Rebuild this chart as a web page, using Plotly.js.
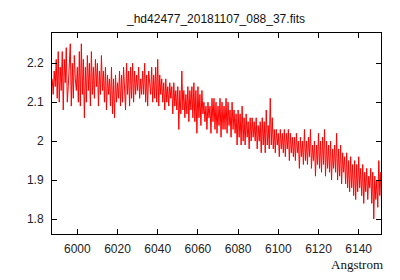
<!DOCTYPE html>
<html>
<head>
<meta charset="utf-8">
<script src="https://cdn.plot.ly/plotly-3.0.1.min.js"></script>
<style>html,body{margin:0;padding:0;background:#fff;}#chart{width:400px;height:280px;}</style>
</head>
<body>
<div id="chart"></div>
<script>
// Spectrum: wavelength start and sampling (Angstrom)
var waveStart = 5987.5;
var waveStep = 0.5;

// Flux values, in blocks of 5 Angstrom
var flux1 = [2.16,2.12,2.18,2.14,2.21,2.11,2.23,2.10,2.19,2.13,
             2.23,2.08,2.21,2.15,2.24,2.10,2.14,2.18,2.25,2.09,
             2.20,2.11,2.22,2.16,2.13,2.19,2.10,2.23,2.09,2.25,
             2.12,2.21,2.06,2.19,2.10,2.22,2.13,2.20,2.09,2.23,
             2.12,2.19,2.11,2.21,2.14,2.20,2.09,2.18,2.12,2.22,
             2.13,2.18,2.10,2.19,2.08,2.17,2.12,2.16,2.09,2.19,
             2.07,2.16,2.06,2.17,2.10,2.15,2.11,2.18,2.09,2.17];
var flux2 = [2.10,2.19,2.15,2.08,2.20,2.12,2.18,2.09,2.19,2.11,
             2.20,2.10,2.18,2.12,2.17,2.13,2.19,2.11,2.16,2.12,
             2.18,2.12,2.20,2.10,2.17,2.09,2.18,2.14,2.12,2.19,
             2.10,2.17,2.11,2.19,2.10,2.21,2.09,2.17,2.12,2.16,
             2.10,2.15,2.08,2.16,2.10,2.14,2.09,2.15,2.11,2.14,
             2.07,2.15,2.09,2.13,2.08,2.14,2.03,2.13,2.07,2.18,
             2.08,2.13,2.06,2.12,2.07,2.14,2.05,2.13,2.08,2.14];
var flux3 = [2.06,2.15,2.05,2.13,2.02,2.14,2.06,2.12,2.04,2.13,
             2.07,2.10,2.05,2.09,2.03,2.10,2.06,2.09,2.02,2.11,
             2.05,2.11,2.03,2.10,2.02,2.09,2.04,2.11,2.01,2.10,
             2.03,2.09,2.03,2.11,2.02,2.10,2.04,2.08,2.01,2.10,
             2.03,2.08,2.02,2.07,1.99,2.08,2.01,2.07,1.99,2.09,
             2.00,2.06,1.99,2.07,2.01,2.05,1.98,2.06,2.00,2.06,
             2.01,2.05,2.00,2.06,1.98,2.04,2.00,2.05,1.97,2.06];
var flux4 = [1.99,2.05,1.97,2.08,1.99,2.04,1.98,2.11,1.99,2.06,
             1.98,2.03,1.97,2.03,1.99,2.02,1.96,2.03,1.98,2.02,
             1.97,2.03,1.96,2.02,1.98,2.03,1.95,2.02,1.97,2.01,
             1.96,2.01,1.95,2.02,1.97,2.00,1.93,2.01,1.96,2.00,
             1.94,2.03,1.95,2.00,1.94,2.01,1.96,2.03,1.93,1.99,
             1.95,2.00,1.91,1.99,1.94,2.02,1.93,2.00,1.92,2.01,
             1.94,2.03,1.91,2.00,1.93,1.99,1.92,2.00,1.90,1.98];
var flux5 = [1.93,1.99,1.92,2.02,1.90,1.98,1.91,1.99,1.89,1.97,
             1.92,1.96,1.89,1.97,1.88,1.95,1.87,1.96,1.88,1.94,
             1.86,1.95,1.85,1.94,1.87,1.96,1.88,1.93,1.86,1.94,
             1.84,1.92,1.87,1.93,1.85,1.91,1.88,1.93,1.84,1.92,
             1.80,1.91,1.85,1.90,1.83,1.95,1.86,1.92,1.81,1.89];

var xTickVals = [6000,6020,6040,6060,6080,6100,6120,6140];
var yTickVals = [1.8,1.9,2.0,2.1,2.2];
var yTickText = ['1.8','1.9','2','2.1','2.2'];
var chartTitle = '_hd42477_20181107_088_37.fits';
var xLabel = 'Angstrom';

var flux = flux1.concat(flux2, flux3, flux4, flux5);
var wave = flux.map(function(_, i){ return waveStart + i*waveStep; });

var trace = {
  x: wave, y: flux, type: 'scatter', mode: 'lines',
  line: {color: '#ff0000', width: 1}, hoverinfo: 'skip'
};

var axisCommon = {
  showgrid: false, zeroline: false, showline: true, linecolor: '#000', linewidth: 1,
  mirror: 'ticks', ticks: 'inside', ticklen: 5, tickcolor: '#000', tickwidth: 1,
  tickfont: {family: 'Liberation Sans, Arial, sans-serif', size: 12, color: '#222'}
};

var layout = {
  width: 400, height: 280,
  margin: {l: 52, r: 19, t: 33, b: 46, pad: 0},
  paper_bgcolor: '#fff', plot_bgcolor: '#fff',
  showlegend: false,
  title: {text: chartTitle, x: 0.54, xanchor: 'center', y: 0.932, yanchor: 'middle',
          font: {family: 'Liberation Sans, Arial, sans-serif', size: 12, color: '#111'}},
  xaxis: Object.assign({}, axisCommon, {range: [5987.4, 6151.1], tickvals: xTickVals, ticklabelstandoff: 4}),
  yaxis: Object.assign({}, axisCommon, {range: [1.7615, 2.2777], tickvals: yTickVals, ticktext: yTickText, ticklabelstandoff: 5}),
  annotations: [{
    text: xLabel, xref: 'paper', yref: 'paper', x: 1, y: 0, xanchor: 'right', yanchor: 'middle',
    xshift: 3, yshift: -30, showarrow: false, borderpad: 0,
    font: {family: 'Liberation Serif, Times New Roman, serif', size: 13, color: '#111'}
  }]
};

Plotly.newPlot('chart', [trace], layout, {staticPlot: true, displayModeBar: false});
</script>
</body>
</html>
